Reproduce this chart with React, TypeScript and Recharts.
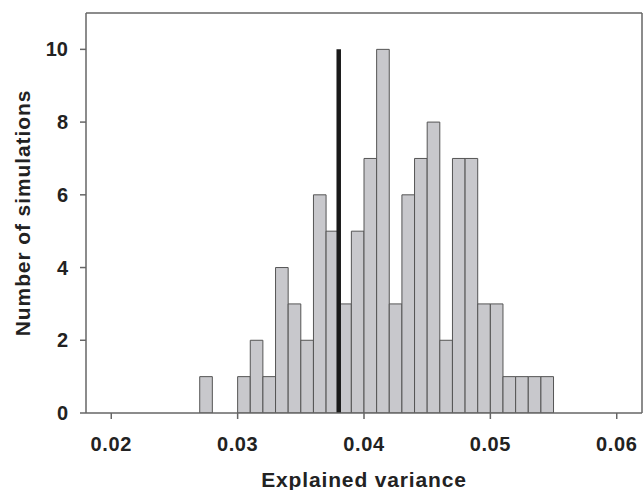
import React from 'react';
import { ComposedChart, Bar, XAxis, YAxis, ReferenceLine } from 'recharts';

// Histogram bins (bin start, width 0.001) and counts
const binStarts = [
  0.027, 0.028, 0.029, 0.03, 0.031, 0.032, 0.033, 0.034, 0.035, 0.036,
  0.037, 0.038, 0.039, 0.04, 0.041, 0.042, 0.043, 0.044, 0.045, 0.046,
  0.047, 0.048, 0.049, 0.05, 0.051, 0.052, 0.053, 0.054,
];
const counts = [
  1, 0, 0, 1, 2, 1, 4, 3, 2, 6,
  5, 3, 5, 7, 10, 3, 6, 7, 8, 2,
  7, 7, 3, 3, 1, 1, 1, 1,
];
const binWidth = 0.001;
const xTicks = [0.02, 0.03, 0.04, 0.05, 0.06];
const yTicks = [0, 2, 4, 6, 8, 10];
const xDomain: [number, number] = [0.018, 0.062];
const yDomain: [number, number] = [0, 11];
const observedValue = 0.038;
const observedHeight = 10;

const data = binStarts.map((s, i) => ({ x: s + binWidth / 2, count: counts[i] }));

const W = 643;
const H = 490;
const margin = { top: 13, right: 1, bottom: 0, left: 0 };
const yAxisWidth = 86;
const xAxisHeight = 77;
const plotWidth = W - margin.left - margin.right - yAxisWidth;
// slightly under the bin pixel width so recharts does not shrink the bars
const barSize = (plotWidth * binWidth) / (xDomain[1] - xDomain[0]) - 0.02;

const font = '"Liberation Sans", Arial, Helvetica, sans-serif';
const axisColor = '#666';
const textColor = '#222';

export default function App() {
  return (
    <div style={{ position: 'absolute', left: 0, top: 0, background: '#fff' }}>
      <ComposedChart width={W} height={H} data={data} margin={margin} barCategoryGap={0} barGap={0}>
        <XAxis
          type="number"
          dataKey="x"
          domain={xDomain}
          ticks={xTicks}
          allowDataOverflow
          tickFormatter={(v: number) => v.toFixed(2)}
          height={xAxisHeight}
          tickSize={6}
          tickMargin={18}
          axisLine={{ stroke: axisColor, strokeWidth: 1.5 }}
          tickLine={{ stroke: axisColor, strokeWidth: 1.5 }}
          tick={{ fill: textColor, fontSize: 20, fontWeight: 'bold', fontFamily: font, style: { letterSpacing: 0.6 } }}
          label={{
            value: 'Explained variance',
            position: 'insideBottom',
            offset: 3,
            fill: textColor,
            fontSize: 21,
            fontWeight: 'bold',
            fontFamily: font,
            style: { letterSpacing: 0.85 },
          }}
        />
        <YAxis
          type="number"
          domain={yDomain}
          ticks={yTicks}
          allowDataOverflow
          width={yAxisWidth}
          tickSize={6}
          tickMargin={12}
          axisLine={{ stroke: axisColor, strokeWidth: 1.5 }}
          tickLine={{ stroke: axisColor, strokeWidth: 1.5 }}
          tick={{ fill: textColor, fontSize: 20, fontWeight: 'bold', fontFamily: font }}
          label={{
            value: 'Number of simulations',
            angle: -90,
            position: 'insideLeft',
            offset: 23,
            textAnchor: 'middle',
            fill: textColor,
            fontSize: 21,
            fontWeight: 'bold',
            fontFamily: font,
            style: { letterSpacing: 0.9 },
          }}
        />
        <Bar
          dataKey="count"
          fill="#c8c8cc"
          stroke="#555"
          strokeWidth={1}
          barSize={barSize}
          isAnimationActive={false}
        />
        <ReferenceLine y={yDomain[1]} stroke={axisColor} strokeWidth={1.5} />
        <ReferenceLine x={xDomain[1]} stroke={axisColor} strokeWidth={1.5} />
        <ReferenceLine
          segment={[
            { x: observedValue, y: 0 },
            { x: observedValue, y: observedHeight },
          ]}
          stroke="#1a1a1a"
          strokeWidth={4.5}
        />
      </ComposedChart>
    </div>
  );
}
